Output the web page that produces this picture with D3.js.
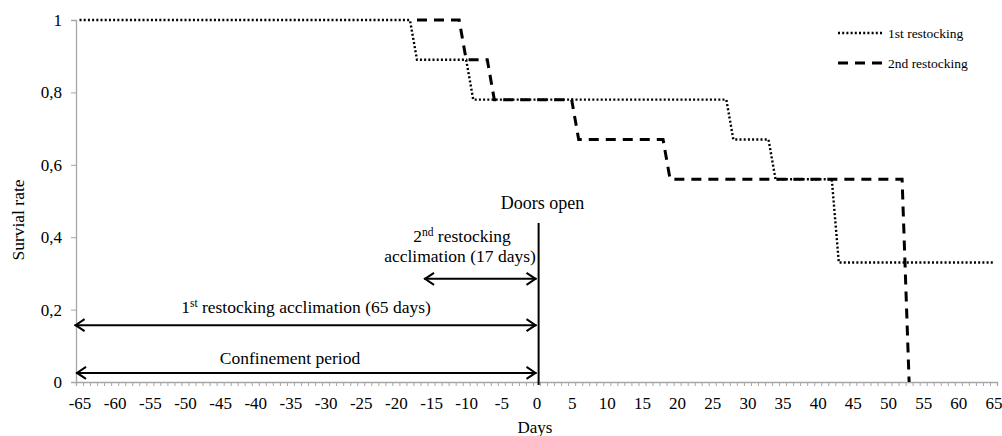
<!DOCTYPE html>
<html><head><meta charset="utf-8">
<script src="https://cdn.jsdelivr.net/npm/d3@7"></script>
<style>
body{margin:0;background:#fff;}
text{font-family:"Liberation Serif","Times New Roman",serif;fill:#000;}
</style></head>
<body>
<svg id="c" width="1002" height="436"></svg>
<script>
// Data
const xTickLabels = d3.range(-65, 66, 5);
const yTickValues = [0, 0.2, 0.4, 0.6, 0.8, 1];
const seriesNames = ["1st restocking", "2nd restocking"];
const series1Days = [-65, -18, -17, -10, -9, 27, 28, 33, 34, 42, 43, 65];
const series1Values = [1, 1, 0.89, 0.89, 0.78, 0.78, 0.67, 0.67, 0.56, 0.56, 0.33, 0.33];
const series2Days = [-17, -11, -10, -7, -6, 5, 6, 18, 19, 52, 53];
const series2Values = [1, 1, 0.89, 0.89, 0.78, 0.78, 0.67, 0.67, 0.56, 0.56, 0];
const doorsOpenDay = 0.3;
const periods = [
  {label: "Confinement period", start: -65.5, end: 0, value: 0.025},
  {label: "1st restocking acclimation (65 days)", start: -65.7, end: 0, value: 0.157},
  {label: "2nd restocking acclimation (17 days)", start: -16, end: 0, value: 0.285}
];

const svg = d3.select("#c");
const x = d3.scaleLinear().domain([-65.5, 65.5]).range([76, 997]);
const y = d3.scaleLinear().domain([0, 1]).range([382, 20]);
const axisColor = "#a6a6a6";
const FS = "17px";

// Y axis
const yAxis = svg.append("g").attr("transform", `translate(${x(-65.5)},0)`)
  .call(d3.axisLeft(y).tickValues(yTickValues).tickSize(5).tickPadding(9)
    .tickFormat(d => d3.format("")(d).replace(".", ",")));
yAxis.select(".domain").attr("stroke", axisColor).attr("stroke-width", 1.3);
yAxis.selectAll(".tick line").attr("stroke", axisColor);
yAxis.selectAll("text").style("font-size", FS).style("font-family", "Liberation Serif");

// X axis minor ticks
const xAxis = svg.append("g").attr("transform", `translate(0,${y(0)})`)
  .call(d3.axisBottom(x).tickValues(d3.range(-65.5, 66, 1)).tickSize(4).tickFormat(""));
xAxis.select(".domain").attr("stroke", axisColor).attr("stroke-width", 1.3);
xAxis.selectAll(".tick line").attr("stroke", axisColor);
const xLab = svg.append("g").attr("transform", `translate(0,${y(0)})`)
  .call(d3.axisBottom(x).tickValues(xTickLabels).tickSize(0).tickPadding(15).tickFormat(d => d));
xLab.select(".domain").remove();
xLab.selectAll("text").style("font-size", FS).style("font-family", "Liberation Serif");

// Axis titles
svg.append("text").attr("x", 535).attr("y", 433).attr("text-anchor", "middle")
  .style("font-size", FS).text("Days");
svg.append("text").attr("transform", "translate(24,220) rotate(-90)").attr("text-anchor", "middle")
  .style("font-size", "17.5px").text("Survial rate");

// Series
const line = d3.line().x(d => x(d[0])).y(d => y(d[1]));
const s1 = series1Days.map((d, i) => [d, series1Values[i]]);
const s2 = series2Days.map((d, i) => [d, series2Values[i]]);
svg.append("path").datum(s1).attr("d", line).attr("fill", "none")
  .attr("stroke", "#000").attr("stroke-width", 2.4).attr("stroke-dasharray", "2,2.2");
svg.append("path").datum(s2).attr("d", line).attr("fill", "none")
  .attr("stroke", "#000").attr("stroke-width", 3).attr("stroke-dasharray", "10,7");

// Legend
const leg = svg.append("g");
[{y: 33, dash: "2,2.2", w: 2.4}, {y: 63, dash: "10,7", w: 3}].forEach((l, i) => {
  leg.append("line").attr("x1", 838).attr("x2", 882).attr("y1", l.y).attr("y2", l.y)
    .attr("stroke", "#000").attr("stroke-width", l.w).attr("stroke-dasharray", l.dash);
  leg.append("text").attr("x", 888).attr("y", l.y + 4.5).style("font-size", "13.5px").text(seriesNames[i]);
});

// Doors open line
svg.append("line").attr("x1", x(doorsOpenDay)).attr("x2", x(doorsOpenDay))
  .attr("y1", 223).attr("y2", y(0) + 3).attr("stroke", "#000").attr("stroke-width", 2);
svg.append("text").attr("x", x(doorsOpenDay) + 4).attr("y", 209).attr("text-anchor", "middle")
  .style("font-size", "18px").text("Doors open");

// Double arrows
function dblArrow(x1, x2, yy) {
  const g = svg.append("g").attr("stroke", "#000").attr("stroke-width", 2).attr("fill", "none");
  g.append("line").attr("x1", x1).attr("x2", x2).attr("y1", yy).attr("y2", yy);
  g.append("path").attr("d", `M${x1 + 10},${yy - 6} L${x1 + 1},${yy} L${x1 + 10},${yy + 6}`);
  g.append("path").attr("d", `M${x2 - 10},${yy - 6} L${x2 - 1},${yy} L${x2 - 10},${yy + 6}`);
}
periods.forEach(p => dblArrow(x(p.start), x(p.end), y(p.value)));

// Labels
svg.append("text").attr("x", 290).attr("y", 364).attr("text-anchor", "middle")
  .style("font-size", "17.5px").text(periods[0].label);
const t1 = svg.append("text").attr("x", 306).attr("y", 313).attr("text-anchor", "middle").style("font-size", "17.5px");
t1.append("tspan").text("1");
t1.append("tspan").attr("dy", -6).style("font-size", "11.5px").text("st");
t1.append("tspan").attr("dy", 6).text(" restocking acclimation (65 days)");
const t2 = svg.append("text").attr("x", 462).attr("y", 242).attr("text-anchor", "middle").style("font-size", "17.5px");
t2.append("tspan").text("2");
t2.append("tspan").attr("dy", -6).style("font-size", "11.5px").text("nd");
t2.append("tspan").attr("dy", 6).text(" restocking");
svg.append("text").attr("x", 460).attr("y", 262).attr("text-anchor", "middle")
  .style("font-size", "17.5px").text("acclimation (17 days)");
</script>
</body></html>
